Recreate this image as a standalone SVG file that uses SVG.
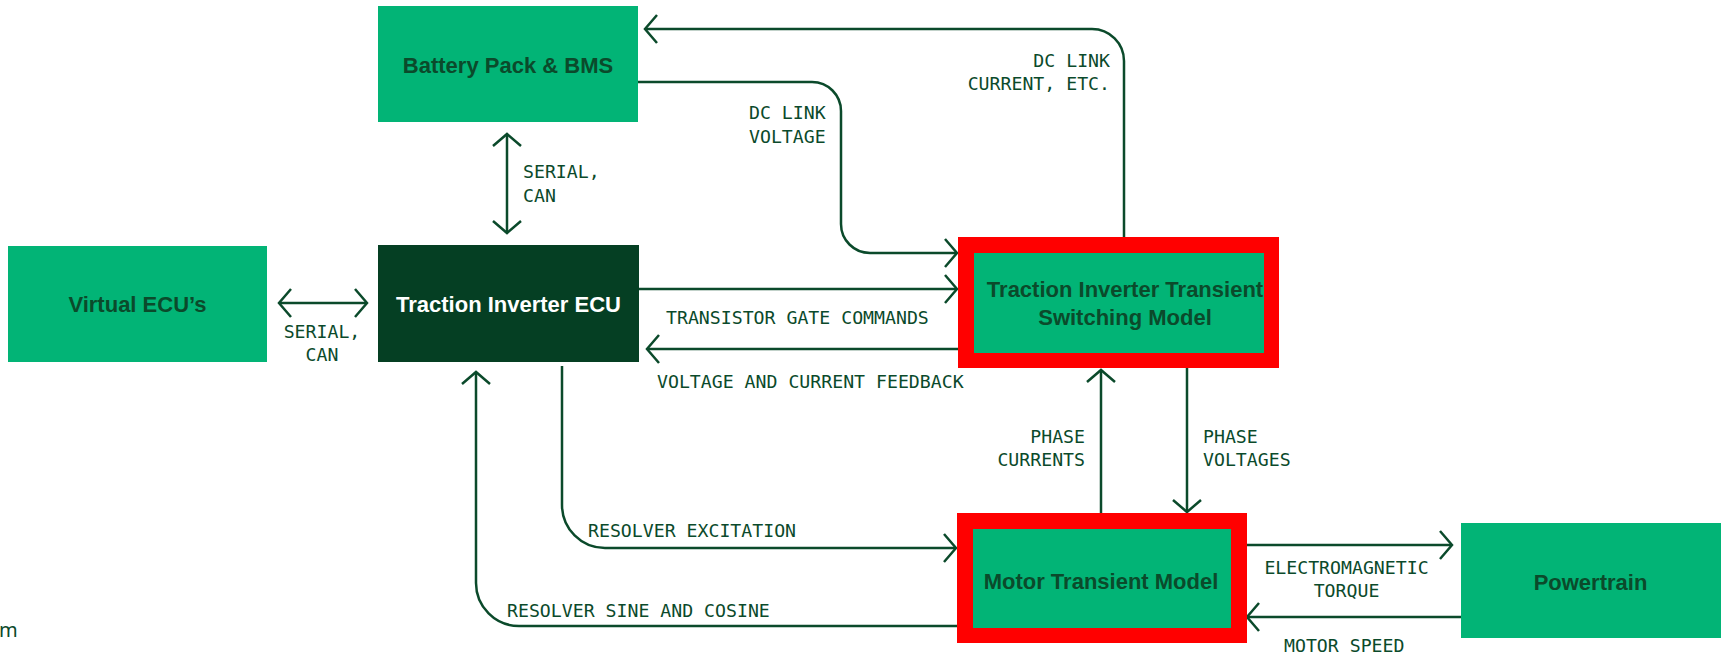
<svg xmlns="http://www.w3.org/2000/svg" width="1721" height="655" viewBox="0 0 1721 655">
  <style>
    .box { fill: #02b476; }
    .dark { fill: #053f23; }
    .hl { fill: #ff0000; }
    .title { font-family: "Liberation Sans", Arial, sans-serif; font-weight: bold; font-size: 22px; fill: #0b4a2b; text-anchor: middle; }
    .title.light { fill: #ffffff; }
    .lbl { font-family: "DejaVu Sans Mono", "Liberation Mono", monospace; font-size: 18.2px; fill: #0b4a2b; }
    .mid { text-anchor: middle; }
    .end { text-anchor: end; }
    .wire { fill: none; stroke: #0b4a2b; stroke-width: 2.5; }
    .note { font-family: "Noto Sans", "Open Sans", sans-serif; font-size: 20px; fill: #0b4a2b; }
  </style>
  <defs>
    <marker id="arr" markerUnits="userSpaceOnUse" markerWidth="32" markerHeight="34" viewBox="-16 -17 20 34" refX="0" refY="0" orient="auto-start-reverse">
      <path d="M-12,-14 L0,0 L-12,14" fill="none" stroke="#0b4a2b" stroke-width="2.5"/>
    </marker>
  </defs>

  <rect width="1721" height="655" fill="#ffffff"/>

  <!-- connectors -->
  <g id="connectors">
    <path class="wire" d="M507,134 V233" marker-start="url(#arr)" marker-end="url(#arr)"/>
    <path class="wire" d="M279,303 H367" marker-start="url(#arr)" marker-end="url(#arr)"/>
    <path class="wire" d="M638,82 H812 A29,29 0 0 1 841,111 V224 A29,29 0 0 0 870,253 H957" marker-end="url(#arr)"/>
    <path class="wire" d="M1124,237 V61 A32,32 0 0 0 1092,29 H645" marker-end="url(#arr)"/>
    <path class="wire" d="M639,289 H957" marker-end="url(#arr)"/>
    <path class="wire" d="M958,349 H647" marker-end="url(#arr)"/>
    <path class="wire" d="M1101,513 V370" marker-end="url(#arr)"/>
    <path class="wire" d="M1187,368 V512" marker-end="url(#arr)"/>
    <path class="wire" d="M562,366 V505 A43,43 0 0 0 605,548 H956" marker-end="url(#arr)"/>
    <path class="wire" d="M957,626 H519 A43,43 0 0 1 476,583 V372" marker-end="url(#arr)"/>
    <path class="wire" d="M1247,545 H1452" marker-end="url(#arr)"/>
    <path class="wire" d="M1461,617 H1247" marker-end="url(#arr)"/>

    <text class="lbl" x="523" y="178">SERIAL,</text>
    <text class="lbl" x="523" y="201.5">CAN</text>
    <text class="lbl mid" x="322" y="337.5">SERIAL,</text>
    <text class="lbl mid" x="322" y="361">CAN</text>
    <text class="lbl" x="749" y="119">DC LINK</text>
    <text class="lbl" x="749" y="142.5">VOLTAGE</text>
    <text class="lbl end" x="1110" y="66.5">DC LINK</text>
    <text class="lbl end" x="1110" y="90">CURRENT, ETC.</text>
    <text class="lbl" x="666" y="324">TRANSISTOR GATE COMMANDS</text>
    <text class="lbl" x="657" y="388">VOLTAGE AND CURRENT FEEDBACK</text>
    <text class="lbl end" x="1085" y="442.5">PHASE</text>
    <text class="lbl end" x="1085" y="466">CURRENTS</text>
    <text class="lbl" x="1203" y="442.5">PHASE</text>
    <text class="lbl" x="1203" y="466">VOLTAGES</text>
    <text class="lbl" x="588" y="536.5">RESOLVER EXCITATION</text>
    <text class="lbl" x="507" y="616.5">RESOLVER SINE AND COSINE</text>
    <text class="lbl mid" x="1346.5" y="573.5">ELECTROMAGNETIC</text>
    <text class="lbl mid" x="1346.5" y="597">TORQUE</text>
    <text class="lbl" x="1284" y="651.5">MOTOR SPEED</text>
  </g>

  <g id="battery">
    <rect class="box" x="378" y="6" width="260" height="116"/>
    <text class="title" x="508" y="73">Battery Pack &amp; BMS</text>
  </g>

  <g id="virtual-ecus">
    <rect class="box" x="8" y="246" width="259" height="116"/>
    <text class="title" x="137.5" y="312">Virtual ECU’s</text>
  </g>

  <g id="inverter-ecu">
    <rect class="dark" x="378" y="245" width="261" height="117"/>
    <text class="title light" x="508.5" y="312">Traction Inverter ECU</text>
  </g>

  <g id="inverter-model">
    <rect class="hl" x="958" y="237" width="321" height="131"/>
    <rect class="box" x="974" y="253" width="290" height="100"/>
    <text class="title" x="1125" y="297">Traction Inverter Transient</text>
    <text class="title" x="1125" y="324.5">Switching Model</text>
  </g>

  <g id="motor-model">
    <rect class="hl" x="957" y="513" width="290" height="130"/>
    <rect class="box" x="973" y="529" width="258" height="99"/>
    <text class="title" x="1101" y="588.5">Motor Transient Model</text>
  </g>

  <g id="powertrain">
    <rect class="box" x="1461" y="523" width="260" height="115"/>
    <text class="title" x="1590.5" y="589.5">Powertrain</text>
  </g>

  <text class="note" x="-1" y="637">m</text>
</svg>
